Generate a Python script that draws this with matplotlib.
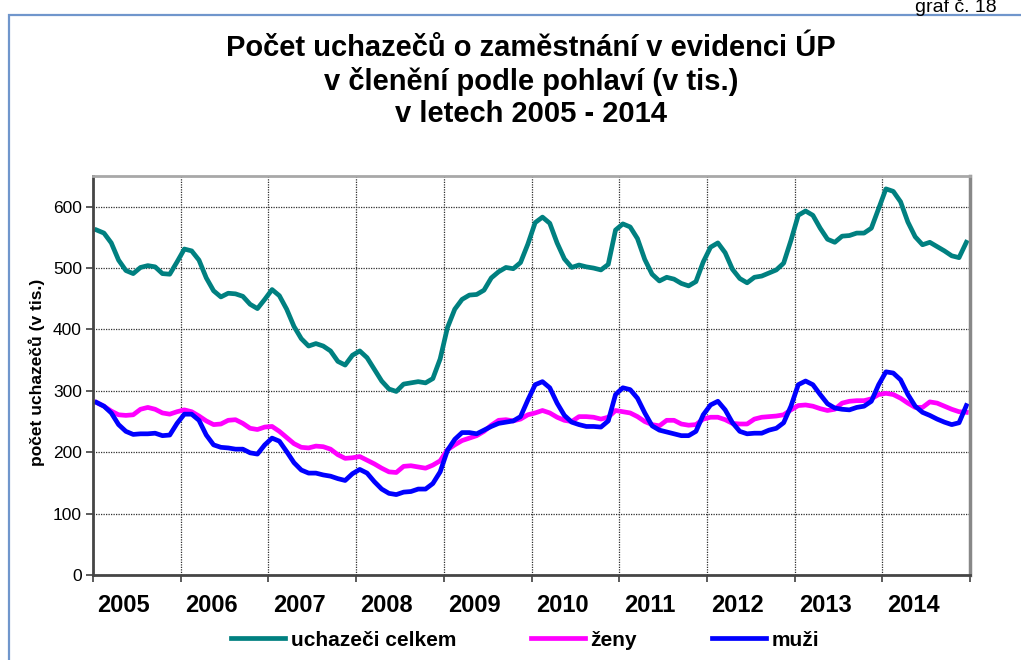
import matplotlib
matplotlib.use("Agg")
import matplotlib.pyplot as plt
import numpy as np

plt.rcParams['font.family'] = ['Liberation Sans', 'DejaVu Sans']

# monthly values 2005-2014, thousands
celkem = [562, 557, 541, 513, 496, 491, 501, 504, 502, 491, 490, 510,
          531, 528, 513, 484, 463, 453, 459, 458, 454, 441, 434, 449,
          465, 455, 433, 405, 385, 373, 377, 373, 365, 348, 342, 358,
          365, 354, 335, 316, 303, 299, 311, 313, 315, 313, 320, 352,
          403, 433, 449, 456, 457, 464, 484, 494, 501, 499, 509, 539,
          574, 583, 573, 541, 515, 501, 505, 502, 500, 497, 506, 562,
          572, 567, 548, 514, 490, 479, 485, 482, 475, 471, 478, 510,
          534, 541, 525, 498, 483, 476, 485, 487, 492, 497, 508, 545,
          586, 593, 586, 565, 547, 542, 552, 553, 557, 557, 565, 597,
          629, 625, 608, 575, 551, 538, 542, 535, 528, 520, 517, 542]

zeny = [281, 275, 267, 261, 260, 261, 270, 273, 270, 264, 262, 266,
        269, 266, 259, 251, 245, 246, 252, 253, 247, 239, 237, 241,
        242, 234, 224, 214, 208, 207, 210, 209, 205, 196, 190, 191,
        193, 187, 181, 174, 168, 167, 177, 178, 176, 174, 179, 186,
        204, 212, 219, 223, 227, 234, 244, 252, 253, 251, 254, 261,
        264, 268, 264, 257, 252, 250, 258, 258, 257, 254, 257, 268,
        266, 264, 258, 250, 245, 243, 252, 252, 246, 244, 245, 254,
        257, 257, 253, 247, 246, 246, 254, 257, 258, 259, 261, 269,
        276, 277, 275, 271, 268, 270, 280, 283, 284, 284, 287, 294,
        296, 294, 288, 280, 273, 273, 282, 280, 275, 270, 266, 265]

muzi = [281, 275, 264, 245, 234, 229, 230, 230, 231, 227, 228, 247,
        262, 262, 252, 228, 212, 208, 207, 205, 205, 199, 197, 212,
        223, 218, 201, 183, 171, 166, 166, 163, 161, 157, 154, 165,
        172, 166, 152, 140, 133, 131, 135, 136, 140, 140, 149, 168,
        203, 221, 232, 232, 230, 236, 242, 247, 249, 251, 258, 285,
        310, 315, 305, 280, 260, 249, 245, 242, 242, 241, 251, 294,
        305, 302, 288, 264, 243, 236, 233, 230, 227, 227, 234, 261,
        277, 283, 269, 248, 234, 230, 231, 231, 236, 239, 248, 275,
        310, 316, 310, 294, 279, 272, 270, 269, 273, 275, 283, 310,
        331, 329, 318, 294, 275, 265, 260, 254, 249, 245, 248, 276]

roky = ['2005', '2006', '2007', '2008', '2009', '2010', '2011', '2012', '2013', '2014']

x = np.arange(len(celkem)) + 0.5

fig = plt.figure(figsize=(10.21, 6.6), dpi=100)
ax = fig.add_axes([93/1021, 1 - 575/660, (970 - 93)/1021, (575 - 176)/660])

ax.plot(x, celkem, color='#008080', lw=3.4, label='uchazeči celkem', solid_joinstyle='round')
ax.plot(x, zeny, color='#FF00FF', lw=3.4, label='ženy', solid_joinstyle='round')
ax.plot(x, muzi, color='#0000FF', lw=3.4, label='muži', solid_joinstyle='round')

ax.set_xlim(0, 120)
ax.set_ylim(0, 650)
ax.set_yticks(range(0, 601, 100))
ax.set_xticks(np.arange(0, 121, 12))
ax.set_xticklabels([])
ax.set_xticks(np.arange(len(roky)) * 12 + 4.2, minor=True)
ax.set_xticklabels(roky, minor=True, fontsize=17, fontweight='bold')
ax.tick_params(axis='x', which='minor', length=0, pad=14)
ax.tick_params(axis='x', which='major', length=5, width=1.2, color='#404040')
ax.tick_params(axis='y', labelsize=12.5, length=5, width=1.2, color='#404040', pad=3)

ax.grid(True, which='major', color='#303030', linestyle=(0, (1, 1)), lw=0.9)
for s in ['left', 'bottom']:
    ax.spines[s].set_color('#454545')
    ax.spines[s].set_linewidth(2)
ax.spines['top'].set_color('#a8a8a8')
ax.spines['top'].set_linewidth(2)
ax.spines['right'].set_color('#888888')
ax.spines['right'].set_linewidth(2.5)

fig.text(37/1021, 1 - 372/660, 'počet uchazečů (v tis.)', rotation=90,
         ha='center', va='center', fontsize=12.5, fontweight='bold')

fig.text(531/1021, 1 - 81/660,
         'Počet uchazečů o zaměstnání v evidenci ÚP\nv členění podle pohlaví (v tis.)\nv letech 2005 - 2014',
         ha='center', va='center', fontsize=21, fontweight='bold', linespacing=1.2)

fig.text(915/1021, 1 - 12/660, 'graf č. 18', fontsize=14, va='baseline', ha='left')

# light blue frame around the chart
fig.add_artist(plt.Rectangle((9/1021, -0.05), 1.2, 1 - 15/660 + 0.05, transform=fig.transFigure,
                             fill=False, edgecolor='#7096CC', lw=1.6))

fig.legend(loc='center', bbox_to_anchor=(525/1021, 1 - 640/660), ncol=3, frameon=False,
           prop={'weight': 'bold', 'size': 15}, handlelength=2.6, handletextpad=0.25,
           columnspacing=3.6)

fig.savefig('out.png', dpi=100)
